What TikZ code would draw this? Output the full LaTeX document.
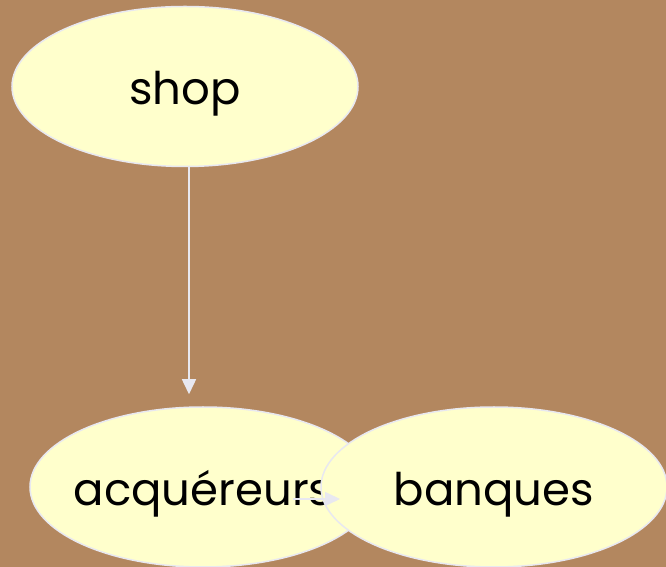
\documentclass[tikz,border=0pt]{standalone}
\usepackage{fontspec}
\setmainfont{Poppins}
\usetikzlibrary{shapes.geometric,arrows.meta}
\definecolor{bgbrown}{HTML}{B3875F}
\definecolor{nodefill}{HTML}{FFFFCC}
\definecolor{edgegray}{HTML}{E8E8F0}
\tikzset{
  ell/.style={ellipse, draw=edgegray, line width=1.5pt, fill=nodefill,
    minimum width=346pt, minimum height=160pt, inner sep=0pt,
    text height=45pt, text depth=8pt,
    font=\fontsize{45}{50}\selectfont, text=black},
  arr/.style={draw=edgegray, line width=1.5pt,
    -{Triangle[width=14pt,length=15pt,fill=edgegray]}}
}
\begin{document}
\begin{tikzpicture}[x=1pt,y=1pt]
\fill[bgbrown] (0,0) rectangle (666,567);
\useasboundingbox (0,0) rectangle (666,567);
\node[ell] (shop) at (185,480.5) {\makebox[0pt]{shop}};
\node[ell] (acq) at (203,80) {\makebox[0pt]{acquéreurs}};
\node[ell] (banques) at (494,80) {\makebox[0pt]{banques}};
\draw[arr, shorten >=12pt] ([xshift=4pt]shop.south) -- ([xshift=4pt]shop.south |- acq.north);
\draw[arr] ([shift={(90pt,-12pt)}]acq.center) -- ([shift={(-154pt,-12pt)}]banques.center);
\end{tikzpicture}
\end{document}
